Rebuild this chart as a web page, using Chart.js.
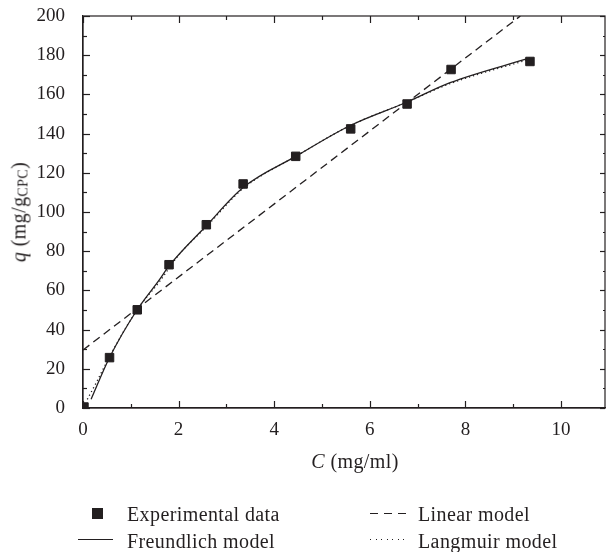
<!DOCTYPE html>
<html>
<head>
<meta charset="utf-8">
<script src="https://cdn.jsdelivr.net/npm/chart.js@4.4.1/dist/chart.umd.min.js"></script>
<style>
  body { margin: 0; background: #fff; }
  #wrap { position: relative; width: 606px; height: 552px; font-family: "Liberation Serif", "DejaVu Serif", serif; color: #231f20; }
  #chart { position: absolute; left: 0; top: 0; }
  .t { position: absolute; font-size: 20px; letter-spacing: 0.4px; white-space: nowrap; line-height: 20px; }
  .sample { position: absolute; height: 1.3px; }
</style>
</head>
<body>
<div id="wrap">
  <canvas id="chart" width="606" height="552"></canvas>
  <div class="t" id="ytitle" style="left:20px; top:212px; transform: translate(-50%, -50%) rotate(-90deg);"><i>q</i> (mg/g<span style="font-size:14px; position:relative; top:2px;">CPC</span>)</div>
  <div class="t" id="xtitle" style="left:355px; top:451px; transform: translateX(-50%);"><i>C</i> (mg/ml)</div>

  <div style="position:absolute; left:92px; top:508px; width:11px; height:11px; background:#231f20;"></div>
  <div class="t" style="left:127px; top:504px;">Experimental data</div>
  <div class="sample" style="left:370px; top:513px; width:36px; background: repeating-linear-gradient(to right, #231f20 0 8px, transparent 8px 14px);"></div>
  <div class="t" style="left:418px; top:504px;">Linear model</div>
  <div class="sample" style="left:78px; top:539px; width:35px; background:#231f20;"></div>
  <div class="t" style="left:127px; top:531px;">Freundlich model</div>
  <div class="sample" style="left:370px; top:539px; width:35px; background: repeating-linear-gradient(to right, #231f20 0 1.2px, transparent 1.2px 5.5px);"></div>
  <div class="t" style="left:418px; top:531px;">Langmuir model</div>
</div>
<script>
// data
const expC = [0.02, 0.555, 1.135, 1.80, 2.58, 3.35, 4.45, 5.60, 6.78, 7.70, 9.35];
const expQ = [0.5, 25.7, 50.1, 73.1, 93.5, 114.3, 128.4, 142.4, 155.1, 172.7, 176.8];

const linC = [0, 9.15];
const linQ = [29.6, 200];

const freC = [0.17, 0.55, 1.13, 1.6, 1.8, 2.58, 3.35, 4.46, 5.58, 6.77, 7.68, 9.35];
const freQ = [4.5, 25.5, 50, 65.5, 72.5, 93, 112.5, 128.5, 144, 156, 166, 178.6];

const lanC = [0.09, 0.3, 0.55, 1.13, 1.6, 2.0, 2.58, 3.35, 4.46, 5.58, 6.77, 7.68, 9.35];
const lanQ = [4.4, 14, 26, 50, 64.5, 78, 92.5, 112, 128.5, 144, 156, 165.5, 178];

const xTicks = [0, 2, 4, 6, 8, 10];
const yTicks = [0, 20, 40, 60, 80, 100, 120, 140, 160, 180, 200];

const ink = '#231f20';
const pts = (xs, ys) => xs.map((v, i) => ({ x: v, y: ys[i] }));

// inward tick marks on all four sides plus the closed frame
const frameTicks = {
  id: 'frameTicks',
  afterDatasetsDraw(chart) {
    const { ctx, chartArea: a, scales: { x, y } } = chart;
    ctx.save();
    ctx.strokeStyle = ink;
    ctx.lineWidth = 1.2;
    ctx.strokeRect(a.left, a.top, a.right - a.left, a.bottom - a.top);
    const seg = (x1, y1, x2, y2) => { ctx.beginPath(); ctx.moveTo(x1, y1); ctx.lineTo(x2, y2); ctx.stroke(); };
    for (let v = 0; v <= 10; v++) {
      const px = Math.round(x.getPixelForValue(v)) + 0.5;
      const len = v % 2 ? 4 : 7;
      seg(px, a.bottom, px, a.bottom - len);
      seg(px, a.top, px, a.top + len);
    }
    for (let v = 0; v <= 200; v += 10) {
      const py = Math.round(y.getPixelForValue(v)) + 0.5;
      seg(a.left, py, a.left + (v % 20 ? 4 : 7), py);
      seg(a.right, py, a.right - (v % 20 ? 2 : 5), py);
    }
    ctx.restore();
  }
};

const tickFont = { family: '"Liberation Serif", serif', size: 19 };

new Chart(document.getElementById('chart'), {
  type: 'scatter',
  data: {
    datasets: [
      {
        label: 'Experimental data',
        data: pts(expC, expQ),
        pointStyle: 'rect',
        pointRadius: 6,
        pointBackgroundColor: ink,
        pointBorderColor: ink,
        showLine: false
      },
      {
        label: 'Freundlich model',
        data: pts(freC, freQ),
        showLine: true,
        pointRadius: 0,
        borderColor: ink,
        borderWidth: 1.3,
        cubicInterpolationMode: 'monotone'
      },
      {
        label: 'Linear model',
        data: pts(linC, linQ),
        showLine: true,
        pointRadius: 0,
        borderColor: ink,
        borderWidth: 1.3,
        borderDash: [8, 5]
      },
      {
        label: 'Langmuir model',
        data: pts(lanC, lanQ),
        showLine: true,
        pointRadius: 0,
        borderColor: ink,
        borderWidth: 1.3,
        borderDash: [1.2, 3],
        cubicInterpolationMode: 'monotone'
      }
    ]
  },
  options: {
    responsive: false,
    animation: false,
    devicePixelRatio: 1,
    layout: { autoPadding: false, padding: { top: 16, right: 1, left: 0, bottom: 0 } },
    plugins: { legend: { display: false }, tooltip: { enabled: false } },
    scales: {
      x: {
        type: 'linear',
        min: 0,
        max: 10.92,
        afterBuildTicks: s => { s.ticks = xTicks.map(v => ({ value: v })); },
        afterFit: s => { s.height = 144; s.paddingLeft = 0; s.paddingRight = 0; },
        grid: { display: false },
        border: { display: true, color: ink, width: 1.2 },
        ticks: { color: ink, font: tickFont, padding: 3, maxRotation: 0 }
      },
      y: {
        type: 'linear',
        min: 0,
        max: 200,
        afterBuildTicks: s => { s.ticks = yTicks.map(v => ({ value: v })); },
        afterFit: s => { s.width = 83; s.paddingTop = 0; s.paddingBottom = 0; },
        grid: { display: false },
        border: { display: true, color: ink, width: 1.2 },
        ticks: { color: ink, font: tickFont, padding: 10 }
      }
    }
  },
  plugins: [frameTicks]
});
</script>
</body>
</html>
